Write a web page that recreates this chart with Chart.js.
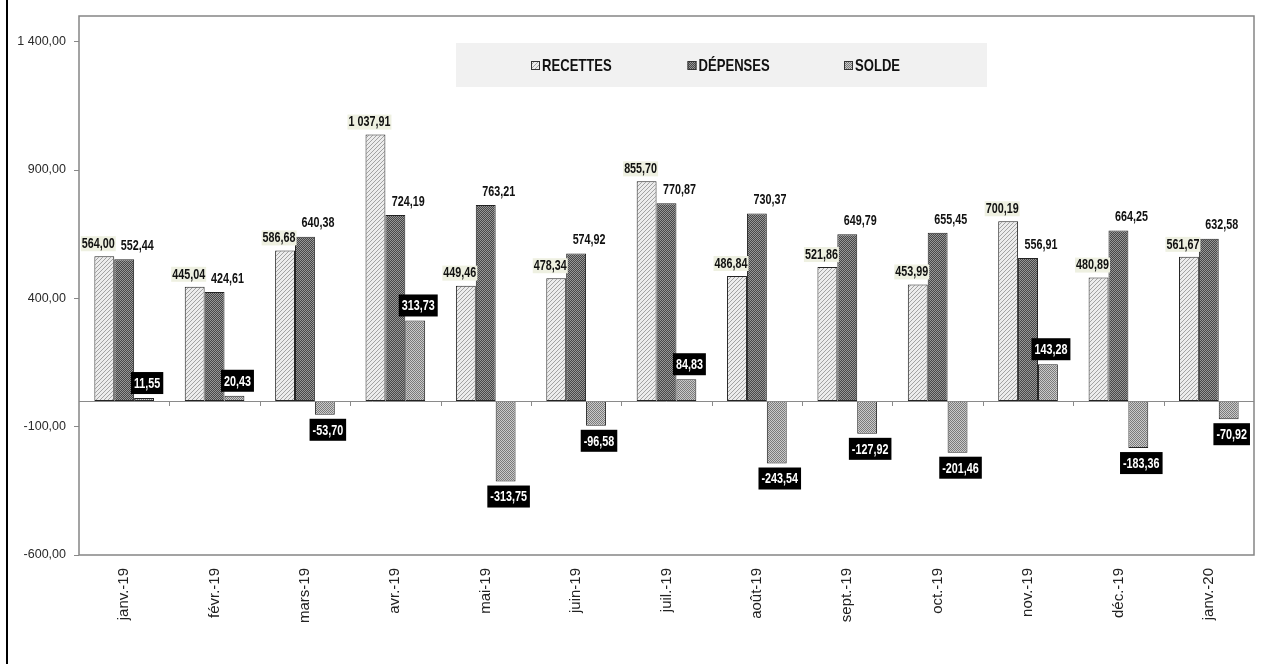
<!DOCTYPE html>
<html>
<head>
<meta charset="utf-8">
<script src="https://cdn.jsdelivr.net/npm/chart.js@4/dist/chart.umd.min.js"></script>
<style>
  html, body { margin: 0; padding: 0; background: #fff; }
  #wrap { width: 1271px; height: 664px; }
</style>
</head>
<body>
<div id="wrap"><canvas id="soldeChart" width="1271" height="664"></canvas></div>
<script>
const mois = ['janv.-19', 'févr.-19', 'mars-19', 'avr.-19', 'mai-19', 'juin-19', 'juil.-19',
    'août-19', 'sept.-19', 'oct.-19', 'nov.-19', 'déc.-19', 'janv.-20'];
const recettes = [564.00, 445.04, 586.68, 1037.91, 449.46, 478.34, 855.70, 486.84, 521.86, 453.99, 700.19, 480.89, 561.67];
const depenses = [552.44, 424.61, 640.38, 724.19, 763.21, 574.92, 770.87, 730.37, 649.79, 655.45, 556.91, 664.25, 632.58];
const solde = [11.55, 20.43, -53.70, 313.73, -313.75, -96.58, 84.83, -243.54, -127.92, -201.46, 143.28, -183.36, -70.92];
const yTicks = [-600, -100, 400, 900, 1400];

const SANS = "'Liberation Sans', Arial, sans-serif";
const SQUEEZE = 0.77; // pas d'Arial Narrow : on resserre le texte a la main
const ctx = document.getElementById('soldeChart').getContext('2d');

// format francais : 1 037,91
function fmt(v) {
    const neg = v < 0;
    const parts = Math.abs(v).toFixed(2).split('.');
    const ent = parts[0].replace(/\B(?=(\d{3})+(?!\d))/g, ' ');
    return (neg ? '-' : '') + ent + ',' + parts[1];
}

function narrowWidth(c, t) {
    return c.measureText(t).width * SQUEEZE;
}
function narrowText(c, t, x, y) {
    c.save();
    c.translate(x, y);
    c.scale(SQUEEZE, 1);
    c.fillText(t, 0, 0);
    c.restore();
}

// motifs de remplissage facon Excel
function makePattern(size, draw) {
    const c = document.createElement('canvas');
    c.width = size; c.height = size;
    const g = c.getContext('2d');
    draw(g, size);
    return ctx.createPattern(c, 'repeat');
}
const patRecettes = makePattern(4, (g, s) => {
    g.fillStyle = '#ececec'; g.fillRect(0, 0, s, s);
    g.fillStyle = '#a2a2a2';
    for (let i = 0; i < s; i++) g.fillRect(i, s - 1 - i, 1, 1);
});
const patDepenses = makePattern(4, (g, s) => {
    g.fillStyle = '#969696'; g.fillRect(0, 0, s, s);
    g.fillStyle = '#474747';
    for (let i = 0; i < s; i++) {
        g.fillRect(i, s - 1 - i, 1, 1);
        g.fillRect(i, (s + 1 - i) % s, 1, 1);
    }
});
const patSolde = makePattern(2, (g) => {
    g.fillStyle = '#cacaca'; g.fillRect(0, 0, 2, 2);
    g.fillStyle = '#7a7a7a';
    g.fillRect(0, 0, 1, 1); g.fillRect(1, 1, 1, 1);
});

const backdrop = {
    id: 'backdrop',
    beforeDraw(chart) {
        const c = chart.ctx;
        c.save();
        c.fillStyle = '#fff';
        c.fillRect(0, 0, chart.width, chart.height);
        c.fillStyle = '#000';
        c.fillRect(6, 0, 2, chart.height);
        c.restore();
    },
    afterDatasetsDraw(chart) {
        const c = chart.ctx;
        const a = chart.chartArea;
        const y0 = Math.round(chart.scales.y.getPixelForValue(0));
        const x = chart.scales.x;
        c.save();
        c.strokeStyle = '#8a8a8a';
        c.lineWidth = 1;
        c.beginPath();
        c.moveTo(a.left, y0 + 0.5);
        c.lineTo(a.right, y0 + 0.5);
        for (let i = 1; i < mois.length; i++) {
            const bx = Math.round((x.getPixelForValue(i - 1) + x.getPixelForValue(i)) / 2) + 0.5;
            c.moveTo(bx, y0);
            c.lineTo(bx, y0 + 5);
        }
        c.stroke();
        c.strokeStyle = '#858585';
        c.lineWidth = 1.5;
        c.strokeRect(a.left, a.top, a.right - a.left, a.bottom - a.top);
        c.restore();
    }
};

const valueLabels = {
    id: 'valueLabels',
    afterDatasetsDraw(chart) {
        const c = chart.ctx;
        c.save();
        c.font = 'bold 14px ' + SANS;
        c.textAlign = 'center';
        c.textBaseline = 'middle';
        chart.data.datasets.forEach((ds, di) => {
            chart.getDatasetMeta(di).data.forEach((bar, i) => {
                const v = ds.data[i];
                const t = fmt(v);
                const w = narrowWidth(c, t);
                let cx, cy;
                if (di === 0) {
                    cx = bar.x - 6; cy = bar.y - 13;
                    c.fillStyle = '#eef0e1';
                    c.fillRect(cx - w / 2 - 1, cy - 7, w + 2, 15);
                    c.fillStyle = '#111';
                } else if (di === 1) {
                    cx = bar.x + 13; cy = bar.y - 14;
                    c.fillStyle = '#111';
                } else {
                    cx = bar.x + 3;
                    cy = v >= 0 ? bar.y - 15 : bar.y + 15;
                    c.fillStyle = '#000';
                    c.fillRect(cx - w / 2 - 3, cy - 11, w + 6, 22);
                    c.fillStyle = '#fff';
                }
                narrowText(c, t, cx, cy + 1);
            });
        });
        c.restore();
    }
};

const legendBox = {
    id: 'legendBox',
    afterDraw(chart) {
        const c = chart.ctx;
        c.save();
        c.fillStyle = '#f1f1f1';
        c.fillRect(456, 43, 531, 44);
        c.font = 'bold 17px ' + SANS;
        c.textBaseline = 'middle';
        c.textAlign = 'left';
        chart.data.datasets.forEach((ds, i) => {
            const x = 531 + i * 156.5;
            c.fillStyle = ds.backgroundColor;
            c.fillRect(x, 61, 9, 9);
            c.strokeStyle = '#333';
            c.lineWidth = 1;
            c.strokeRect(x + 0.5, 61.5, 8, 8);
            c.fillStyle = '#111';
            narrowText(c, ds.label, x + 11, 66);
        });
        c.restore();
    }
};

new Chart(ctx, {
    type: 'bar',
    data: {
        labels: mois,
        datasets: [
            {
                label: 'RECETTES',
                data: recettes,
                backgroundColor: patRecettes,
                borderColor: '#222',
                borderWidth: 1,
                borderSkipped: false
            },
            {
                label: 'DÉPENSES',
                data: depenses,
                backgroundColor: patDepenses,
                borderColor: '#222',
                borderWidth: 1,
                borderSkipped: false
            },
            {
                label: 'SOLDE',
                data: solde,
                backgroundColor: patSolde,
                borderColor: '#222',
                borderWidth: 1,
                borderSkipped: false
            }
        ]
    },
    options: {
        responsive: false,
        animation: false,
        devicePixelRatio: 1,
        categoryPercentage: 0.66,
        barPercentage: 1.0,
        layout: { padding: { top: 16, right: 17, left: 0, bottom: 0 } },
        scales: {
            x: {
                grid: { display: false },
                border: { display: false },
                afterFit: (s) => { s.height = 109; },
                ticks: {
                    minRotation: 90,
                    maxRotation: 90,
                    padding: 5,
                    color: '#222',
                    font: { family: SANS, size: 15 }
                }
            },
            y: {
                min: -600,
                max: 1500,
                afterBuildTicks: (s) => { s.ticks = yTicks.map(v => ({ value: v })); },
                afterFit: (s) => { s.width = 79; },
                grid: {
                    drawOnChartArea: false,
                    drawTicks: true,
                    tickLength: 5,
                    color: '#888'
                },
                border: { display: false },
                ticks: {
                    padding: 8,
                    color: '#2a2a2a',
                    font: { family: SANS, size: 12.5 },
                    callback: (v) => fmt(v)
                }
            }
        },
        plugins: {
            legend: { display: false },
            tooltip: { enabled: false }
        }
    },
    plugins: [backdrop, valueLabels, legendBox]
});
</script>
</body>
</html>
